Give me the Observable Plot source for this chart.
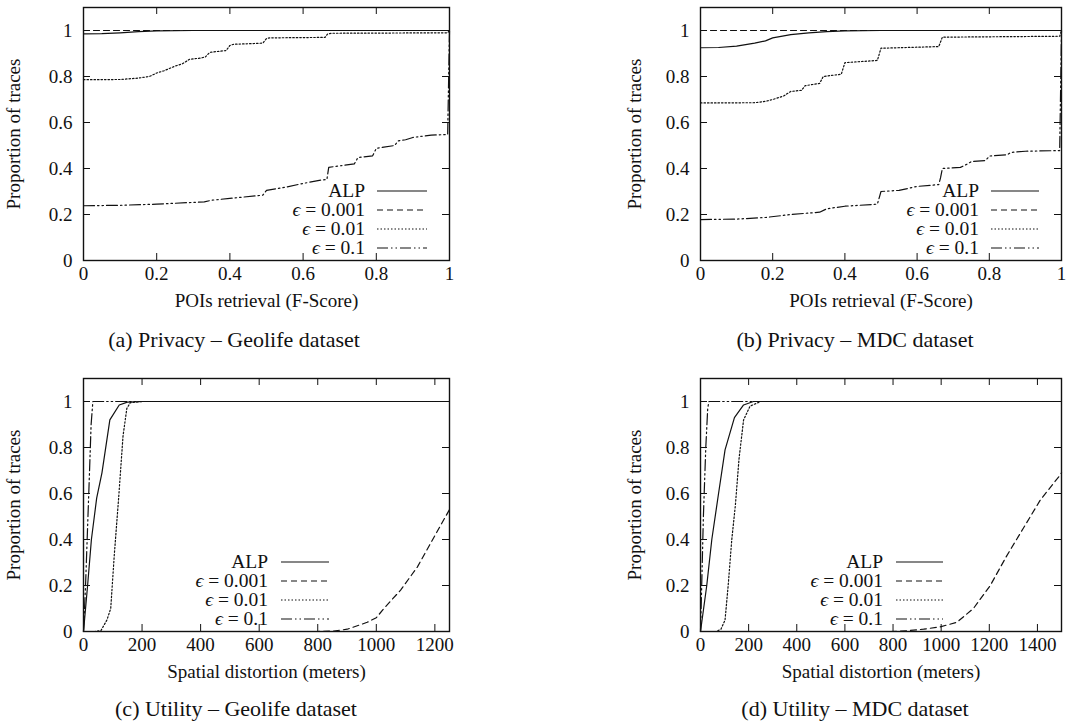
<!DOCTYPE html>
<html><head><meta charset="utf-8">
<script src="https://cdn.jsdelivr.net/npm/d3@7"></script>
<script src="https://cdn.jsdelivr.net/npm/@observablehq/plot@0.6"></script>
<style>
body{margin:0;background:#fff;}
#root{position:relative;width:1070px;height:721px;overflow:hidden;}
.panel{position:absolute;}
.panel text{font-family:"Liberation Serif","DejaVu Serif",serif;}
.cap{position:absolute;font-family:"Liberation Serif","Times New Roman",serif;font-size:22px;line-height:24px;color:#111;white-space:nowrap;transform:translateX(-50%);}
</style>
</head><body><div id="root"></div>
<script>
// ---- data ----
const seriesLabels = ["ALP", "ϵ = 0.001", "ϵ = 0.01", "ϵ = 0.1"];
const yTicks = [0, 0.2, 0.4, 0.6, 0.8, 1];
const fscoreTicks = [0, 0.2, 0.4, 0.6, 0.8, 1];
const geolifeDistTicks = [0, 200, 400, 600, 800, 1000, 1200];
const mdcDistTicks = [0, 200, 400, 600, 800, 1000, 1200, 1400];

// (a) Privacy – Geolife  [F-score, proportion]
const privGeoALP = [[0,0.985],[0.05,0.986],[0.1,0.99],[0.15,0.995],[0.2,0.998],[0.3,1],[1,1]];
const privGeoE001 = [[0,1],[1,1]];
const privGeoE01 = [[0,0.786],[0.1,0.787],[0.15,0.793],[0.18,0.80],[0.2,0.815],[0.22,0.825],[0.25,0.845],[0.27,0.855],[0.29,0.875],[0.32,0.88],[0.333,0.885],[0.345,0.905],[0.39,0.913],[0.40,0.935],[0.41,0.94],[0.49,0.945],[0.50,0.965],[0.51,0.968],[0.66,0.97],[0.667,0.985],[0.68,0.988],[0.995,0.99],[1,1]];
const privGeoE1 = [[0,0.238],[0.1,0.24],[0.2,0.245],[0.33,0.255],[0.35,0.262],[0.4,0.27],[0.49,0.284],[0.5,0.305],[0.55,0.318],[0.6,0.335],[0.65,0.35],[0.665,0.352],[0.67,0.405],[0.74,0.42],[0.75,0.448],[0.79,0.455],[0.80,0.488],[0.85,0.5],[0.86,0.52],[0.88,0.525],[0.9,0.535],[0.95,0.545],[0.995,0.548],[1,1]];

// (b) Privacy – MDC
const privMdcALP = [[0,0.925],[0.05,0.926],[0.1,0.932],[0.15,0.945],[0.18,0.955],[0.2,0.968],[0.25,0.982],[0.3,0.99],[0.35,0.995],[0.4,0.998],[0.5,1],[1,1]];
const privMdcE001 = [[0,1],[1,1]];
const privMdcE01 = [[0,0.685],[0.15,0.686],[0.18,0.692],[0.2,0.70],[0.23,0.715],[0.25,0.735],[0.28,0.74],[0.29,0.76],[0.33,0.77],[0.34,0.80],[0.39,0.81],[0.40,0.86],[0.49,0.87],[0.50,0.923],[0.66,0.93],[0.67,0.971],[0.995,0.975],[1,1]];
const privMdcE1 = [[0,0.178],[0.1,0.18],[0.18,0.187],[0.25,0.2],[0.33,0.21],[0.35,0.225],[0.4,0.236],[0.49,0.245],[0.5,0.30],[0.55,0.305],[0.6,0.322],[0.66,0.33],[0.665,0.36],[0.67,0.40],[0.72,0.405],[0.74,0.42],[0.75,0.43],[0.79,0.435],[0.8,0.454],[0.85,0.46],[0.86,0.47],[0.9,0.475],[0.995,0.478],[1,1]];

// (c) Utility – Geolife  [meters, proportion]
const utilGeoALP = [[0,0],[14,0.2],[27,0.4],[45,0.58],[63,0.69],[90,0.92],[122,0.985],[150,0.997],[200,1],[1250,1]];
const utilGeoE001 = [[0,0],[800,0],[855,0.002],[901,0.01],[969,0.04],[1000,0.06],[1026,0.1],[1083,0.18],[1140,0.28],[1197,0.41],[1250,0.53]];
const utilGeoE01 = [[0,0],[40,0],[60,0.005],[80,0.05],[93,0.1],[105,0.33],[120,0.58],[135,0.85],[148,0.97],[160,0.995],[200,1],[1250,1]];
const utilGeoE1 = [[0,0],[7,0.2],[18,0.6],[26,0.9],[32,1],[1250,1]];

// (d) Utility – MDC
const utilMdcALP = [[0,0],[26,0.2],[47,0.4],[75,0.6],[102,0.79],[141,0.93],[179,0.985],[220,1],[1500,1]];
const utilMdcE001 = [[0,0],[790,0],[857,0.003],[927,0.01],[996,0.02],[1065,0.04],[1134,0.1],[1204,0.2],[1273,0.33],[1342,0.45],[1411,0.57],[1494,0.68],[1500,0.69]];
const utilMdcE01 = [[0,0],[65,0],[85,0.01],[102,0.05],[115,0.2],[130,0.4],[145,0.55],[160,0.75],[179,0.92],[206,0.98],[250,1],[1500,1]];
const utilMdcE1 = [[0,0],[5,0.2],[12,0.5],[22,0.8],[30,0.97],[35,1],[1500,1]];

const captions = ["(a) Privacy – Geolife dataset", "(b) Privacy – MDC dataset", "(c) Utility – Geolife dataset", "(d) Utility – MDC dataset"];

// ---- styles ----
const dashes = [null, "6,4", "1.5,2", "11,3,1.5,3,1.5,3"];
const FONT = '"Liberation Serif","DejaVu Serif",serif';
const INK = "#111";

function panel(cfg) {
  const fw = cfg.width - cfg.ml - cfg.mr;
  const fh = cfg.height - cfg.mt - cfg.mb;
  const fmt = d => d3.format("~g")(d);
  const marks = [];
  cfg.series.forEach((s, i) => {
    marks.push(Plot.line(s, {x: d => d[0], y: d => d[1], stroke: INK, strokeWidth: 1.2,
      strokeDasharray: dashes[i] || undefined}));
  });
  marks.push(
    Plot.tickX(cfg.xTicks, {x: d => d, insetTop: fh - 7, stroke: INK}),
    Plot.tickX(cfg.xTicks, {x: d => d, insetBottom: fh - 7, stroke: INK}),
    Plot.tickY(yTicks, {y: d => d, insetRight: fw - 7, stroke: INK}),
    Plot.tickY(yTicks, {y: d => d, insetLeft: fw - 7, stroke: INK}),
    Plot.frame({stroke: INK, strokeWidth: 1.4})
  );
  const svg = Plot.plot({
    width: cfg.width, height: cfg.height,
    marginLeft: cfg.ml, marginRight: cfg.mr, marginTop: cfg.mt, marginBottom: cfg.mb,
    style: `font-family: ${FONT}; font-size: 19px; color: ${INK}; background: transparent; overflow: visible;`,
    x: {domain: cfg.xDomain, ticks: cfg.xTicks, tickSize: 0, tickPadding: 6, tickFormat: fmt,
        label: cfg.xLabel, labelAnchor: "center", labelOffset: 46, labelArrow: "none"},
    y: {domain: [0, 1.1], ticks: yTicks, tickSize: 0, tickPadding: 11, tickFormat: fmt,
        label: "Proportion of traces", labelAnchor: "center", labelOffset: cfg.ylo, labelArrow: "none"},
    marks
  });
  svg.setAttribute("font-family", FONT);
  svg.setAttribute("font-size", "19");
  svg.style.fontFamily = FONT;
  svg.style.fontSize = "19px";
  // legend (inside the frame, bottom right)
  const fx2 = cfg.width - cfg.mr, fy2 = cfg.height - cfg.mb;
  const g = d3.select(svg).append("g").attr("font-family", FONT).attr("font-size", 19.5).attr("fill", INK);
  const rows = [-70, -51, -32, -13];
  seriesLabels.forEach((lab, i) => {
    const t = g.append("text").attr("x", fx2 - cfg.legText).attr("y", fy2 + rows[i])
      .attr("dy", "0.35em").attr("text-anchor", "end");
    if (lab.startsWith("ϵ")) {
      t.append("tspan").attr("font-style", "italic").text("ϵ");
      t.append("tspan").text(lab.slice(1));
    } else t.text(lab);
    g.append("line").attr("x1", fx2 - cfg.legL1).attr("x2", fx2 - cfg.legL2)
      .attr("y1", fy2 + rows[i] + 1).attr("y2", fy2 + rows[i] + 1)
      .attr("stroke", INK).attr("stroke-width", 1.2)
      .attr("stroke-dasharray", dashes[i] || null);
  });
  svg.classList.add("panel");
  svg.style.position = "absolute";
  svg.style.left = cfg.left + "px";
  svg.style.top = cfg.top + "px";
  return svg;
}

const root = document.getElementById("root");
root.append(panel({left: 0, top: 0, width: 470, height: 320, ml: 83, mr: 21, mt: 7, mb: 60, ylo: 77,
  xDomain: [0, 1], xTicks: fscoreTicks, xLabel: "POIs retrieval (F-Score)",
  series: [privGeoALP, privGeoE001, privGeoE01, privGeoE1], legText: 84, legL1: 72, legL2: 22}));
root.append(panel({left: 600, top: 0, width: 470, height: 320, ml: 100, mr: 9, mt: 7, mb: 60, ylo: 73,
  xDomain: [0, 1], xTicks: fscoreTicks, xLabel: "POIs retrieval (F-Score)",
  series: [privMdcALP, privMdcE001, privMdcE01, privMdcE1], legText: 82, legL1: 70, legL2: 22}));
root.append(panel({left: 0, top: 370, width: 470, height: 320, ml: 83, mr: 21, mt: 8, mb: 59, ylo: 77,
  xDomain: [0, 1250], xTicks: geolifeDistTicks, xLabel: "Spatial distortion (meters)",
  series: [utilGeoALP, utilGeoE001, utilGeoE01, utilGeoE1], legText: 181, legL1: 168, legL2: 120}));
root.append(panel({left: 600, top: 370, width: 470, height: 320, ml: 100, mr: 9, mt: 8, mb: 59, ylo: 73,
  xDomain: [0, 1500], xTicks: mdcDistTicks, xLabel: "Spatial distortion (meters)",
  series: [utilMdcALP, utilMdcE001, utilMdcE01, utilMdcE1], legText: 178, legL1: 165, legL2: 118}));

const capPos = [[234, 328], [855, 328], [236, 697], [855, 697]];
captions.forEach((c, i) => {
  const d = document.createElement("div");
  d.className = "cap";
  d.style.left = capPos[i][0] + "px";
  d.style.top = capPos[i][1] + "px";
  d.textContent = c;
  root.append(d);
});
</script>
</body></html>
